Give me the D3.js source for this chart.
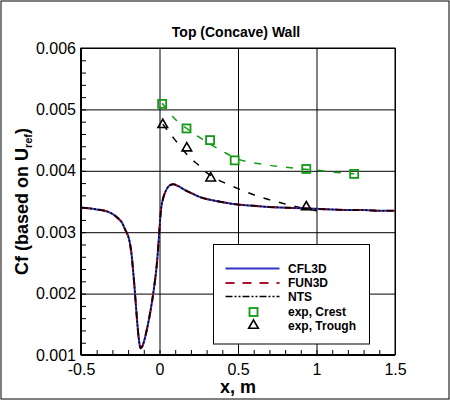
<!DOCTYPE html>
<html>
<head>
<meta charset="utf-8">
<script src="https://cdn.jsdelivr.net/npm/d3@7"></script>
<style>
  body { margin: 0; background: #fff; }
  svg { display: block; font-family: "Liberation Sans", Arial, sans-serif; }
</style>
</head>
<body>
<svg id="chart" width="450" height="401"></svg>
<script>
// CFD curves (same x stations)
const cfdX = [-0.5, -0.45, -0.4, -0.35, -0.3, -0.27, -0.24, -0.22, -0.2, -0.19, -0.18, -0.17, -0.16, -0.15,
  -0.14, -0.13, -0.12, -0.11, -0.1, -0.08, -0.06, -0.04, -0.02, -0.01, 0, 0.01, 0.02, 0.03, 0.05, 0.07, 0.09,
  0.12, 0.16, 0.2, 0.25, 0.3, 0.4, 0.5, 0.6, 0.7, 0.8, 0.9, 1.0, 1.1, 1.2, 1.3, 1.4, 1.5];
const cfl3dCf = [0.00340, 0.00339, 0.00337, 0.00335, 0.00330, 0.00324, 0.00316, 0.00305, 0.00294, 0.00284,
  0.00268, 0.00243, 0.00213, 0.00180, 0.00148, 0.00123, 0.00111, 0.00114, 0.00121, 0.00142, 0.00168, 0.00200,
  0.00240, 0.00270, 0.00305, 0.00338, 0.00352, 0.00361, 0.00372, 0.00377, 0.00378, 0.00375, 0.00369, 0.00364,
  0.00358, 0.00354, 0.00349, 0.00345, 0.00343, 0.00341, 0.00340, 0.00339, 0.00338, 0.00337, 0.00336, 0.00336,
  0.00335, 0.00335];
const fun3dCf = [0.00340, 0.00339, 0.00337, 0.00335, 0.00330, 0.00324, 0.00316, 0.00305, 0.00294, 0.00284,
  0.00268, 0.00243, 0.00213, 0.00180, 0.00148, 0.00123, 0.00111, 0.00114, 0.00121, 0.00142, 0.00168, 0.00200,
  0.00240, 0.00270, 0.00305, 0.00338, 0.00352, 0.00361, 0.00372, 0.00377, 0.00378, 0.00375, 0.00369, 0.00364,
  0.00358, 0.00354, 0.00349, 0.00345, 0.00343, 0.00341, 0.00340, 0.00339, 0.00338, 0.00337, 0.00336, 0.00336,
  0.00335, 0.00335];
const ntsCf = [0.00340, 0.00339, 0.00337, 0.00335, 0.00330, 0.00324, 0.00316, 0.00305, 0.00294, 0.00284,
  0.00268, 0.00243, 0.00213, 0.00180, 0.00148, 0.00123, 0.00111, 0.00114, 0.00121, 0.00142, 0.00168, 0.00200,
  0.00240, 0.00270, 0.00305, 0.00338, 0.00352, 0.00361, 0.00372, 0.00377, 0.00378, 0.00375, 0.00369, 0.00364,
  0.00358, 0.00354, 0.00349, 0.00345, 0.00343, 0.00341, 0.00340, 0.00339, 0.00338, 0.00337, 0.00336, 0.00336,
  0.00335, 0.00335];

// experiment
const crestX = [0.017, 0.172, 0.322, 0.479, 0.935, 1.24];
const crestCf = [0.00509, 0.00469, 0.00450, 0.00417, 0.00403, 0.00395];
const troughX = [0.021, 0.174, 0.326, 0.935];
const troughCf = [0.00475, 0.00437, 0.00388, 0.00341];

// dashed fits through experiment
const crestFitX = [0.017, 0.1, 0.2, 0.3, 0.4, 0.5, 0.6, 0.7, 0.8, 0.9, 1.0, 1.1, 1.24];
const crestFitCf = [0.00510, 0.00484, 0.00464, 0.00447, 0.00432, 0.00419, 0.00413, 0.00409, 0.00406, 0.00403, 0.00401, 0.00398, 0.00395];
const troughFitX = [0.021, 0.05, 0.1, 0.15, 0.2, 0.25, 0.3, 0.35, 0.4, 0.5, 0.6, 0.7, 0.8, 0.9, 1.0, 1.05];
const troughFitCf = [0.00476, 0.00466, 0.00450, 0.00434, 0.00420, 0.00409, 0.00397, 0.00389, 0.00382, 0.00371,
  0.00361, 0.00353, 0.00346, 0.00340, 0.00335, 0.00332];

// ticks
const xTickVals = [-0.5, 0, 0.5, 1, 1.5];
const xTickLabels = ["-0.5", "0", "0.5", "1", "1.5"];
const yTickVals = [0.001, 0.002, 0.003, 0.004, 0.005, 0.006];
const yTickLabels = ["0.001", "0.002", "0.003", "0.004", "0.005", "0.006"];

const svg = d3.select("#chart");
const area = { left: 81, top: 48, right: 395, bottom: 355 };
const w = area.right - area.left, h = area.bottom - area.top;

// outer frame
svg.append("rect").attr("x", 1).attr("y", 1).attr("width", 448).attr("height", 398)
  .attr("fill", "#fff").attr("stroke", "#000").attr("stroke-width", 1);

const scX = d3.scaleLinear().domain([-0.5, 1.5]).range([0, w]);
const scY = d3.scaleLinear().domain([0.001, 0.006]).range([h, 0]);

const g = svg.append("g").attr("transform", `translate(${area.left},${area.top})`);

// grid
g.append("g").attr("transform", `translate(0,${h})`)
  .call(d3.axisBottom(scX).tickValues(xTickVals).tickSize(-h).tickFormat(""))
  .call(a => a.select(".domain").remove())
  .selectAll("line").attr("stroke", "#000").attr("stroke-width", 1);
g.append("g")
  .call(d3.axisLeft(scY).tickValues(yTickVals).tickSize(-w).tickFormat(""))
  .call(a => a.select(".domain").remove())
  .selectAll("line").attr("stroke", "#000").attr("stroke-width", 1);

// minor ticks
g.append("g").attr("transform", `translate(0,${h})`)
  .call(d3.axisBottom(scX).tickValues(d3.range(-5, 16).map(i => i / 10)).tickSize(-5).tickFormat(""))
  .call(a => a.select(".domain").remove())
  .selectAll("line").attr("stroke", "#000");
g.append("g")
  .call(d3.axisLeft(scY).tickValues(d3.range(5, 31).map(i => i / 5000)).tickSize(-5).tickFormat(""))
  .call(a => a.select(".domain").remove())
  .selectAll("line").attr("stroke", "#000");

// frame
g.append("rect").attr("width", w).attr("height", h).attr("fill", "none")
  .attr("stroke", "#000").attr("stroke-width", 1);
g.append("line").attr("x1", 0).attr("x2", w).attr("y1", h).attr("y2", h)
  .attr("stroke", "#000").attr("stroke-width", 2);
g.append("line").attr("x1", 0).attr("x2", 0).attr("y1", 0).attr("y2", h)
  .attr("stroke", "#000").attr("stroke-width", 2);

// tick labels
g.append("g").attr("transform", `translate(0,${h})`)
  .call(d3.axisBottom(scX).tickValues(xTickVals).tickSize(0).tickPadding(9)
    .tickFormat((d, i) => xTickLabels[i]))
  .call(a => a.select(".domain").remove())
  .selectAll("text").attr("font-size", 16).attr("font-family", "Liberation Sans, Arial, sans-serif").attr("fill", "#000");
g.append("g")
  .call(d3.axisLeft(scY).tickValues(yTickVals).tickSize(0).tickPadding(5)
    .tickFormat((d, i) => yTickLabels[i]))
  .call(a => a.select(".domain").remove())
  .selectAll("text").attr("font-size", 16).attr("font-family", "Liberation Sans, Arial, sans-serif").attr("fill", "#000");

// clip
svg.append("clipPath").attr("id", "clip").append("rect").attr("width", w).attr("height", h);
const plot = g.append("g").attr("clip-path", "url(#clip)");

const line = d3.line().x(d => scX(d[0])).y(d => scY(d[1])).curve(d3.curveCatmullRom.alpha(0.5));
const zip = (xs, ys) => xs.map((x, i) => [x, ys[i]]);

const blue = "#3434c8", red = "#b0102a", green = "#129a12";

// fits
plot.append("path").attr("d", line(zip(crestFitX, crestFitCf))).attr("fill", "none")
  .attr("stroke", green).attr("stroke-width", 1.5).attr("stroke-dasharray", "7,9");
plot.append("path").attr("d", line(zip(troughFitX, troughFitCf))).attr("fill", "none")
  .attr("stroke", "#000").attr("stroke-width", 1.5).attr("stroke-dasharray", "7,9");

// CFD
plot.append("path").attr("d", line(zip(cfdX, cfl3dCf))).attr("fill", "none")
  .attr("stroke", blue).attr("stroke-width", 2);
plot.append("path").attr("d", line(zip(cfdX, fun3dCf))).attr("fill", "none")
  .attr("stroke", red).attr("stroke-width", 2).attr("stroke-dasharray", "9,8");
plot.append("path").attr("d", line(zip(cfdX, ntsCf))).attr("fill", "none")
  .attr("stroke", "#000").attr("stroke-width", 1.6).attr("stroke-dasharray", "7,2,2,2,2,2");

// markers
const sq = 8;
g.selectAll(".crest").data(zip(crestX, crestCf)).enter().append("rect")
  .attr("x", d => scX(d[0]) - sq / 2).attr("y", d => scY(d[1]) - sq / 2)
  .attr("width", sq).attr("height", sq)
  .attr("fill", "none").attr("stroke", green).attr("stroke-width", 1.8);
const tri = d3.symbol().type(d3.symbolTriangle).size(40);
g.selectAll(".trough").data(zip(troughX, troughCf)).enter().append("path")
  .attr("d", tri).attr("transform", d => `translate(${scX(d[0])},${scY(d[1])})`)
  .attr("fill", "none").attr("stroke", "#000").attr("stroke-width", 1.6);

// legend
const lg = svg.append("g").attr("transform", "translate(213.5,244.5)");
lg.append("rect").attr("width", 156).attr("height", 99.5).attr("fill", "#fff")
  .attr("stroke", "#000").attr("stroke-width", 1);
const legendItems = [
  { label: "CFL3D", y: 24, kind: "line", color: blue, dash: null, sw: 2 },
  { label: "FUN3D", y: 38.5, kind: "line", color: red, dash: "9,8", sw: 2 },
  { label: "NTS", y: 52, kind: "line", color: "#000", dash: "7,2,2,2,2,2", sw: 1.6 },
  { label: "exp, Crest", y: 67.5, kind: "square" },
  { label: "exp, Trough", y: 81, kind: "tri" }
];
legendItems.forEach(it => {
  if (it.kind === "line") {
    lg.append("line").attr("x1", 12).attr("x2", 66).attr("y1", it.y).attr("y2", it.y)
      .attr("stroke", it.color).attr("stroke-width", it.sw).attr("stroke-dasharray", it.dash);
  } else if (it.kind === "square") {
    lg.append("rect").attr("x", 40 - sq / 2).attr("y", it.y - sq / 2).attr("width", sq).attr("height", sq)
      .attr("fill", "none").attr("stroke", green).attr("stroke-width", 1.8);
  } else {
    lg.append("path").attr("d", tri).attr("transform", `translate(40,${it.y})`)
      .attr("fill", "none").attr("stroke", "#000").attr("stroke-width", 1.6);
  }
  lg.append("text").attr("x", 74.5).attr("y", it.y + 4.3).attr("font-size", 12).attr("font-weight", "bold")
    .text(it.label);
});

// title and axis titles
svg.append("text").attr("x", 236).attr("y", 37).attr("text-anchor", "middle")
  .attr("font-size", 14).attr("font-weight", "bold").text("Top (Concave) Wall");
svg.append("text").attr("x", area.left + w / 2).attr("y", 393).attr("text-anchor", "middle")
  .attr("font-size", 18).attr("font-weight", "bold").text("x, m");
const yt = svg.append("text").attr("transform", `translate(28,${area.top + h / 2}) rotate(-90)`)
  .attr("text-anchor", "middle").attr("font-size", 18).attr("font-weight", "bold");
yt.append("tspan").text("Cf (based on U");
yt.append("tspan").attr("font-size", 11).attr("dy", 4).text("ref");
yt.append("tspan").attr("dy", -4).text(")");
</script>
</body>
</html>
